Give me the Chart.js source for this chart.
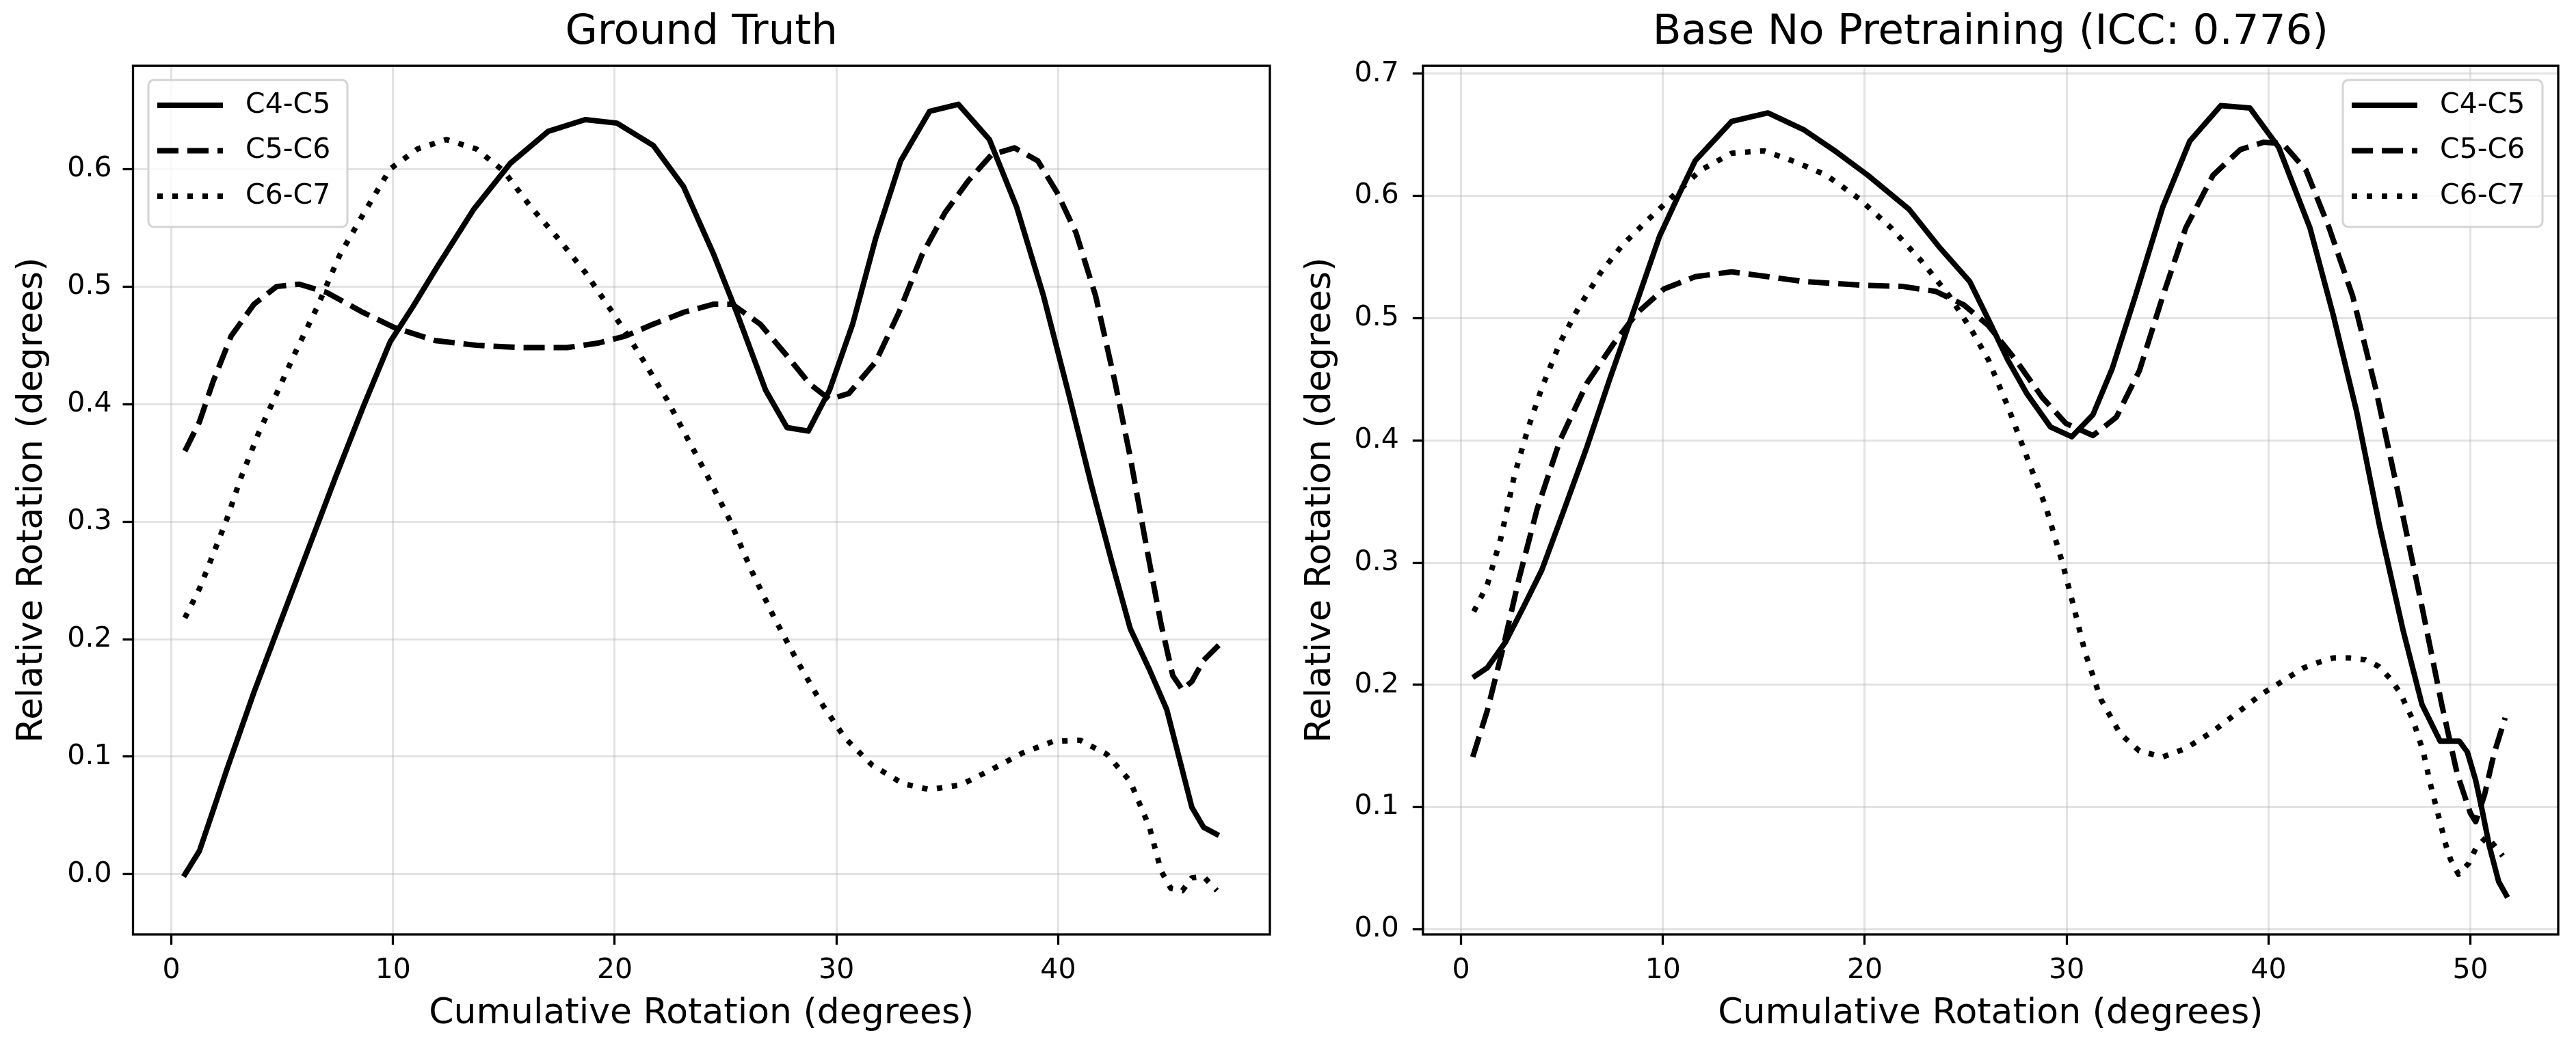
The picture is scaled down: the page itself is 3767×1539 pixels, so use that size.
<!DOCTYPE html>
<html>
<head>
<meta charset="utf-8">
<script src="https://cdn.jsdelivr.net/npm/chart.js@4.4.1/dist/chart.umd.min.js"></script>
<style>
  html, body { margin: 0; padding: 0; background: #fff; }
  body { width: 3767px; height: 1539px; position: relative; overflow: hidden; }
  .panel { position: absolute; top: 0; height: 1539px; }
  .panel canvas { display: block; }
  #left { left: 0; width: 1880px; }
  #right { left: 1880px; width: 1887px; }
</style>
</head>
<body>
<div class="panel" id="left"><canvas id="gt"></canvas></div>
<div class="panel" id="right"><canvas id="base"></canvas></div>
<script>
const seriesLabels = ['C4-C5', 'C5-C6', 'C6-C7'];

// Ground Truth panel
const gtC45X = [0.55, 1.27, 1.88, 2.5, 3.73, 4.95, 6.18, 7.41, 8.64, 9.87, 10.9, 12.0, 13.65, 15.3, 17.0, 18.67, 20.1, 21.74, 23.1, 24.47, 25.5, 26.8, 27.77, 28.73, 29.69, 30.73, 31.77, 32.9, 34.2, 35.5, 36.9, 38.12, 39.34, 40.47, 41.5, 42.4, 43.25, 44.12, 44.9, 45.5, 46.03, 46.56, 47.25];
const gtC45Y = [-0.002, 0.020, 0.054, 0.089, 0.155, 0.216, 0.277, 0.338, 0.397, 0.453, 0.483, 0.517, 0.566, 0.605, 0.632, 0.642, 0.639, 0.620, 0.585, 0.527, 0.478, 0.412, 0.380, 0.377, 0.412, 0.468, 0.541, 0.607, 0.649, 0.655, 0.625, 0.568, 0.492, 0.409, 0.331, 0.267, 0.209, 0.174, 0.140, 0.096, 0.057, 0.040, 0.033];
const gtC56X = [0.61, 1.27, 1.88, 2.7, 3.73, 4.75, 5.77, 7.0, 8.64, 10.07, 11.9, 13.76, 15.8, 17.85, 19.28, 20.5, 21.74, 23.1, 24.47, 25.3, 26.56, 27.77, 28.8, 29.69, 30.56, 31.77, 32.82, 33.86, 34.9, 35.95, 36.99, 38.03, 39.08, 39.95, 40.8, 41.69, 42.56, 43.25, 43.95, 44.64, 45.17, 45.6, 46.03, 46.56, 47.25];
const gtC56Y = [0.360, 0.385, 0.419, 0.458, 0.485, 0.500, 0.502, 0.495, 0.478, 0.465, 0.454, 0.450, 0.448, 0.448, 0.452, 0.458, 0.468, 0.478, 0.485, 0.485, 0.468, 0.441, 0.417, 0.404, 0.409, 0.436, 0.478, 0.527, 0.563, 0.590, 0.612, 0.618, 0.607, 0.580, 0.546, 0.492, 0.419, 0.355, 0.282, 0.213, 0.169, 0.157, 0.164, 0.182, 0.195];
const gtC67X = [0.61, 1.27, 1.88, 2.5, 3.11, 3.93, 4.75, 5.57, 6.59, 7.6, 8.64, 9.87, 11.1, 12.4, 13.76, 15.0, 16.2, 17.44, 18.67, 19.9, 21.1, 22.35, 23.3, 24.12, 25.17, 26.2, 27.2, 28.3, 29.34, 30.38, 31.6, 33.0, 34.2, 35.6, 36.99, 38.38, 39.77, 40.99, 42.2, 43.25, 44.12, 44.64, 45.08, 45.6, 46.03, 46.56, 47.16];
const gtC67Y = [0.218, 0.243, 0.272, 0.302, 0.336, 0.375, 0.409, 0.443, 0.483, 0.527, 0.561, 0.600, 0.617, 0.625, 0.617, 0.598, 0.568, 0.541, 0.512, 0.478, 0.443, 0.404, 0.370, 0.341, 0.302, 0.257, 0.218, 0.179, 0.145, 0.116, 0.093, 0.077, 0.072, 0.076, 0.089, 0.103, 0.113, 0.114, 0.102, 0.079, 0.040, 0.003, -0.012, -0.014, -0.003, -0.002, -0.014];

// Base No Pretraining panel
const bnC45X = [0.58, 1.3, 2.2, 3.1, 4.0, 5.12, 6.24, 7.36, 8.7, 9.83, 10.7, 11.6, 13.4, 15.2, 17.0, 18.6, 20.15, 22.2, 23.7, 25.2, 26.12, 27.08, 28.04, 29.2, 30.25, 31.3, 32.26, 33.4, 34.76, 36.1, 37.64, 39.08, 40.5, 42.05, 43.2, 44.36, 45.5, 46.66, 47.6, 48.5, 49.45, 49.85, 50.26, 50.6, 50.94, 51.4, 51.84];
const bnC45Y = [0.206, 0.214, 0.235, 0.264, 0.294, 0.344, 0.395, 0.450, 0.513, 0.567, 0.598, 0.629, 0.661, 0.668, 0.654, 0.636, 0.617, 0.589, 0.558, 0.530, 0.499, 0.466, 0.438, 0.411, 0.403, 0.421, 0.459, 0.518, 0.591, 0.645, 0.674, 0.672, 0.640, 0.574, 0.503, 0.424, 0.330, 0.245, 0.184, 0.154, 0.154, 0.145, 0.122, 0.096, 0.068, 0.039, 0.026];
const bnC56X = [0.58, 1.3, 2.09, 2.87, 3.77, 4.9, 6.24, 7.59, 8.7, 10.05, 11.6, 13.4, 15.2, 17.0, 19.9, 21.9, 23.5, 24.9, 26.12, 27.47, 28.8, 29.96, 31.3, 32.46, 33.6, 34.76, 35.9, 37.25, 38.6, 39.75, 40.7, 41.86, 43.0, 44.17, 45.3, 46.47, 47.6, 48.58, 49.35, 50.0, 50.26, 50.7, 51.16, 51.72];
const bnC56Y = [0.141, 0.179, 0.231, 0.287, 0.344, 0.400, 0.447, 0.480, 0.504, 0.524, 0.534, 0.538, 0.534, 0.530, 0.527, 0.526, 0.522, 0.511, 0.494, 0.466, 0.435, 0.414, 0.404, 0.419, 0.457, 0.518, 0.574, 0.617, 0.638, 0.644, 0.643, 0.621, 0.574, 0.518, 0.443, 0.353, 0.264, 0.184, 0.127, 0.095, 0.088, 0.110, 0.143, 0.173];
const bnC67X = [0.63, 1.3, 1.97, 2.65, 3.32, 4.0, 4.9, 5.8, 6.9, 8.0, 9.16, 10.5, 11.85, 13.4, 15.0, 16.56, 18.1, 19.7, 21.3, 22.85, 24.2, 25.3, 26.12, 27.08, 28.04, 29.0, 29.77, 30.35, 30.92, 31.7, 32.65, 33.6, 34.76, 35.9, 37.25, 38.6, 39.66, 40.4, 41.07, 41.75, 42.5, 43.2, 44.0, 44.8, 45.47, 46.03, 46.5, 47.16, 47.67, 48.0, 48.4, 48.8, 49.02, 49.41, 49.92, 50.26, 50.82, 51.6];
const bnC67Y = [0.260, 0.282, 0.320, 0.372, 0.410, 0.443, 0.480, 0.508, 0.537, 0.560, 0.579, 0.600, 0.621, 0.635, 0.637, 0.628, 0.617, 0.598, 0.574, 0.546, 0.518, 0.490, 0.466, 0.428, 0.386, 0.344, 0.301, 0.264, 0.226, 0.188, 0.160, 0.146, 0.141, 0.148, 0.162, 0.179, 0.1925, 0.200, 0.207, 0.214, 0.2185, 0.222, 0.222, 0.2205, 0.215, 0.205, 0.194, 0.171, 0.145, 0.120, 0.094, 0.068, 0.057, 0.045, 0.054, 0.066, 0.076, 0.060];

const FONT = 'DejaVu Sans';
const GRID = 'rgba(176,176,176,0.35)';
const BOTTOM = 1367; // bottom edge of both plot areas
Chart.defaults.font.family = FONT;
Chart.defaults.color = '#000';

const dashes = [[], [31, 13], [8, 14]];

const makeSets = (xs, ys) => seriesLabels.map((label, i) => ({
    label: label,
    data: xs[i].map((x, j) => ({ x: x, y: ys[i][j] })),
    borderColor: '#000',
    borderWidth: 8,
    borderDash: dashes[i],
    borderCapStyle: 'butt',
    borderJoinStyle: 'round',
    pointRadius: 0,
    fill: false,
    tension: 0
}));

// axes box on all four sides, like matplotlib spines
const frame = {
    id: 'frame',
    afterDatasetsDraw(chart) {
        const { ctx, chartArea: a } = chart;
        ctx.save();
        ctx.strokeStyle = '#000';
        ctx.lineWidth = 3.3;
        ctx.strokeRect(a.left, a.top, a.right - a.left, a.bottom - a.top);
        ctx.restore();
    }
};

// legend box drawn from the datasets themselves
const legendBox = {
    id: 'legendBox',
    afterDraw(chart, args, o) {
        const ctx = chart.ctx;
        ctx.save();
        ctx.beginPath();
        ctx.roundRect(o.x, o.y, o.w, o.h, 8);
        ctx.fillStyle = 'rgba(255,255,255,0.8)';
        ctx.fill();
        ctx.strokeStyle = '#d4d4d4';
        ctx.lineWidth = 3;
        ctx.stroke();
        chart.data.datasets.forEach((ds, i) => {
            const cy = o.y + o.firstRow + i * o.rowGap;
            ctx.beginPath();
            ctx.setLineDash(ds.borderDash);
            ctx.lineWidth = ds.borderWidth;
            ctx.lineCap = 'butt';
            ctx.strokeStyle = ds.borderColor;
            ctx.moveTo(o.x + 13, cy);
            ctx.lineTo(o.x + 109, cy);
            ctx.stroke();
            ctx.setLineDash([]);
            ctx.fillStyle = '#000';
            ctx.font = '41px "' + FONT + '"';
            ctx.textBaseline = 'middle';
            ctx.fillText(ds.label, o.x + 142, cy);
        });
        ctx.restore();
    }
};

const buildOptions = (p) => ({
    responsive: true,
    maintainAspectRatio: false,
    animation: false,
    devicePixelRatio: 1,
    layout: { padding: { left: 0, top: 0, bottom: 0, right: p.padRight } },
    plugins: {
        legend: { display: false },
        tooltip: { enabled: false },
        title: {
            display: true,
            text: p.title,
            fullSize: false,
            color: '#000',
            font: { family: FONT, size: 61, weight: 'normal', lineHeight: 1.2 },
            padding: { top: 12, bottom: 11 }
        },
        legendBox: p.legend
    },
    scales: {
        x: {
            type: 'linear',
            min: p.xMin,
            max: p.xMax,
            border: { display: false },
            grid: { color: GRID, lineWidth: 3, tickLength: 15, tickColor: '#000', tickWidth: 3.3 },
            ticks: {
                stepSize: 10,
                includeBounds: false,
                maxRotation: 0,
                color: '#000',
                padding: 14,
                font: { family: FONT, size: 41 },
                callback: (v) => v.toFixed(0)
            },
            title: {
                display: true,
                text: 'Cumulative Rotation (degrees)',
                color: '#000',
                font: { family: FONT, size: 52, lineHeight: 1.2 },
                padding: { top: 0, bottom: 24 }
            },
            afterFit: (s) => { s.height = 1539 - BOTTOM; }
        },
        y: {
            type: 'linear',
            min: p.yMin,
            max: p.yMax,
            border: { display: false },
            grid: { color: GRID, lineWidth: 3, tickLength: 15, tickColor: '#000', tickWidth: 3.3 },
            ticks: {
                stepSize: 0.1,
                includeBounds: false,
                color: '#000',
                padding: p.yTickPad,
                font: { family: FONT, size: 41 },
                callback: (v) => v.toFixed(1)
            },
            title: {
                display: true,
                text: 'Relative Rotation (degrees)',
                color: '#000',
                font: { family: FONT, size: 52, lineHeight: 1.2 },
                padding: { top: p.yTitlePad, bottom: 0 }
            },
            afterFit: (s) => { s.width = p.axisLeft; }
        }
    }
});

new Chart(document.getElementById('gt'), {
    type: 'line',
    data: { datasets: makeSets([gtC45X, gtC56X, gtC67X], [gtC45Y, gtC56Y, gtC67Y]) },
    options: buildOptions({
        title: 'Ground Truth',
        xMin: -1.73, xMax: 49.55,
        yMin: -0.0512, yMax: 0.6878,
        axisLeft: 194.5, padRight: 23,
        yTickPad: 16, yTitlePad: 16,
        legend: { x: 217, y: 117, w: 291, h: 215, firstRow: 37, rowGap: 66.5 }
    }),
    plugins: [frame, legendBox]
});

new Chart(document.getElementById('base'), {
    type: 'line',
    data: { datasets: makeSets([bnC45X, bnC56X, bnC67X], [bnC45Y, bnC56Y, bnC67Y]) },
    options: buildOptions({
        title: 'Base No Pretraining (ICC: 0.776)',
        xMin: -1.89, xMax: 54.35,
        yMin: -0.0042, yMax: 0.7066,
        axisLeft: 200.8, padRight: 26,
        yTickPad: 20, yTitlePad: 20,
        legend: { x: 1546, y: 117, w: 292, h: 215, firstRow: 37, rowGap: 66.5 }
    }),
    plugins: [frame, legendBox]
});
</script>
</body>
</html>
